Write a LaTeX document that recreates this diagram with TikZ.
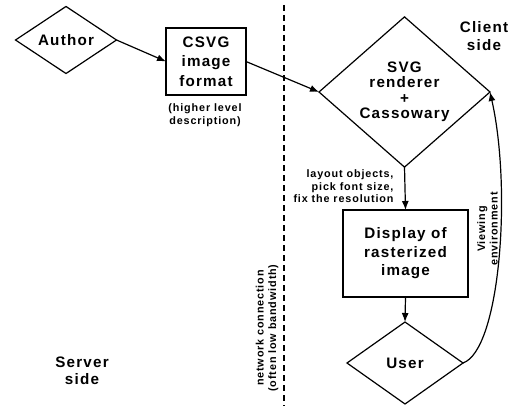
\documentclass[tikz,border=0pt]{standalone}
\usepackage{fontspec}
\setmainfont{Liberation Sans}[LetterSpace=8]
\usetikzlibrary{shapes.geometric,arrows.meta}
\tikzset{
  big/.style={font=\fontsize{15.2}{18.5}\selectfont\bfseries, align=center},
  small/.style={font=\fontsize{10.8}{12.5}\selectfont\bfseries},
  dia/.style={draw, diamond, line width=1.2pt, inner sep=0pt, outer sep=0pt, big},
  box/.style={draw, rectangle, line width=1.2pt, inner sep=0pt, outer sep=0pt, big},
  arr/.style={line width=1.2pt, -{Latex[length=9pt,width=7pt]}},
}
\begin{document}
\begin{tikzpicture}[x=1pt,y=-1pt]
\useasboundingbox (0,0) rectangle (518,406);
\node[dia, minimum width=101pt, minimum height=51pt] (author) at (66,40) {Author};
\node[box, minimum width=80pt, minimum height=67pt] (csvg) at (206,61.5) {CSVG\\[1pt]image\\[1pt]format};
\node[small, align=center, font=\fontsize{10.8}{13.5}\selectfont\bfseries] (desc) at (205,115) {(higher level\\description)};
\node[dia, minimum width=171pt, minimum height=144pt] (svg) at (404.5,92) {SVG\\[-3pt]renderer\\[-3pt]+\\[-3pt]Cassowary};
\node[big] (client) at (484,36) {Client\\[-1pt]side};
\node[box, minimum width=125pt, minimum height=87pt] (disp) at (405.5,253.5) {Display of\\rasterized\\image};
\node[dia, minimum width=116pt, minimum height=82pt] (user) at (405,363) {User};
\node[big] (server) at (82,371) {Server\\[-2pt]side};
\node[small, align=right, anchor=east] (layout) at (397,186.5) {layout objects,\\pick font size,\\fix the resolution};
\node[small, align=center, rotate=90] (view) at (487.5,229) {Viewing\\environment};
\node[small, align=center, rotate=90] (net) at (267,328) {network connection\\(often low bandwidth)};
\coordinate (dtop) at (284,5);
\coordinate (dbot) at (284,406);
\draw[line width=1.2pt, dash pattern=on 6pt off 4pt] (dtop) -- (dbot);
\draw[arr] (author.east) -- (csvg.west);
\draw[arr] (csvg.east) -- (svg.west);
\draw[arr] (svg.south) -- (disp.north);
\draw[arr] (disp.south) -- (user.north);
\draw[arr] (user.east) .. controls (500,350) and (512,190) .. (svg.east);
\end{tikzpicture}
\end{document}
